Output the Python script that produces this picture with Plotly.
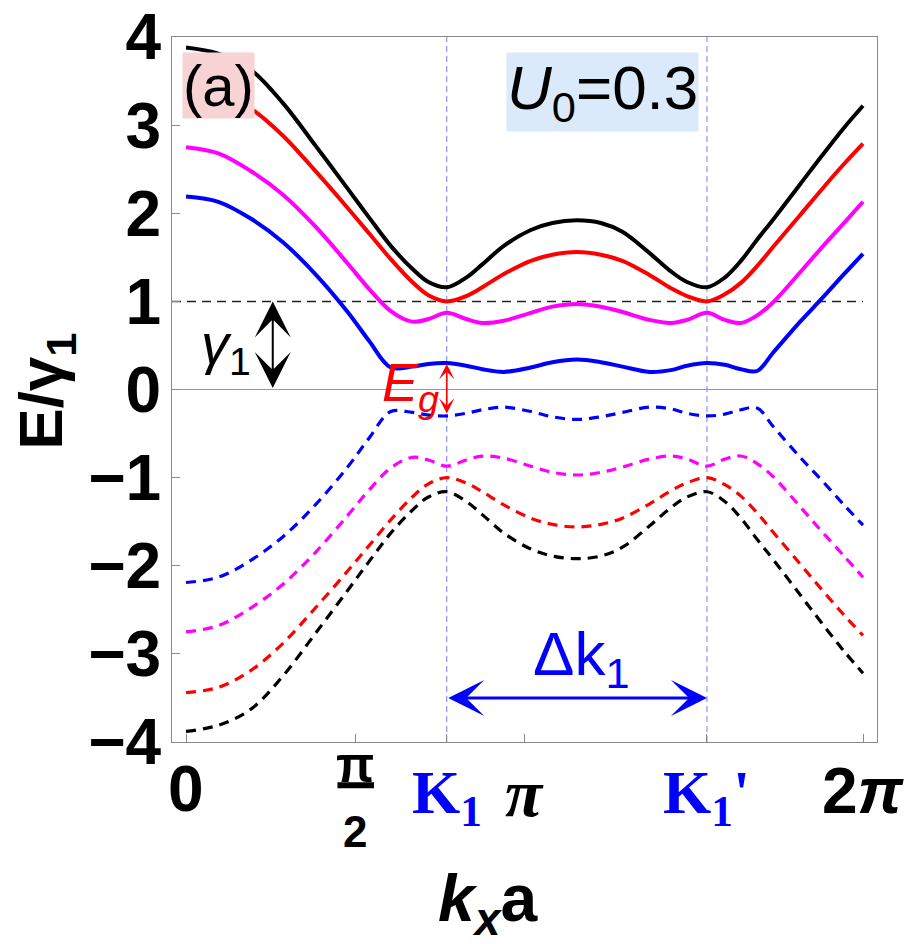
import math
import plotly.graph_objects as go

PI = math.pi
K1 = 2.42
K1P = 4.835

kx = [0, 0.3, 0.6, 0.9, 1.2, 1.5, 1.7, 1.9, 2.1, 2.25, 2.42, 2.6, 2.75, 2.95, 3.2, 3.4,
      3.63, 3.85, 4.05, 4.3, 4.5, 4.65, 4.835, 5.0, 5.15, 5.3, 5.45, 5.7, 5.9, 6.1, 6.283]

# conduction bands (solid)
E_black = [3.88, 3.81, 3.63, 3.25, 2.77, 2.28, 1.95, 1.63, 1.37, 1.22, 1.16, 1.27, 1.42, 1.63, 1.81, 1.89,
           1.92, 1.89, 1.79, 1.55, 1.34, 1.22, 1.16, 1.27, 1.46, 1.70, 1.93, 2.33, 2.65, 2.96, 3.22]
E_red = [3.44, 3.38, 3.19, 2.88, 2.48, 2.06, 1.77, 1.48, 1.22, 1.07, 1.00, 1.06, 1.16, 1.31, 1.46, 1.53,
         1.56, 1.53, 1.46, 1.30, 1.15, 1.06, 1.00, 1.08, 1.21, 1.40, 1.62, 1.98, 2.27, 2.55, 2.79]
E_magenta = [2.75, 2.68, 2.48, 2.21, 1.85, 1.43, 1.14, 0.89, 0.77, 0.80, 0.87, 0.80, 0.755, 0.78, 0.87, 0.94,
             0.97, 0.94, 0.88, 0.79, 0.755, 0.79, 0.87, 0.79, 0.755, 0.84, 0.99, 1.33, 1.61, 1.88, 2.13]
E_blue = [2.19, 2.13, 1.94, 1.67, 1.31, 0.88, 0.55, 0.25, 0.26, 0.29, 0.30, 0.27, 0.23, 0.20, 0.25, 0.31,
          0.34, 0.31, 0.26, 0.20, 0.22, 0.27, 0.30, 0.28, 0.23, 0.21, 0.42, 0.77, 1.03, 1.30, 1.54]

# valence bands (dashed)
V_black = [-3.88, -3.81, -3.63, -3.25, -2.77, -2.28, -1.95, -1.63, -1.37, -1.22, -1.16, -1.27, -1.42, -1.63, -1.81, -1.89,
           -1.92, -1.89, -1.79, -1.55, -1.34, -1.22, -1.16, -1.27, -1.46, -1.70, -1.93, -2.33, -2.65, -2.96, -3.22]
V_red = [-3.44, -3.38, -3.19, -2.88, -2.48, -2.06, -1.77, -1.48, -1.22, -1.07, -1.00, -1.06, -1.16, -1.31, -1.46, -1.53,
         -1.56, -1.53, -1.46, -1.30, -1.15, -1.06, -1.00, -1.08, -1.21, -1.40, -1.62, -1.98, -2.27, -2.55, -2.79]
V_magenta = [-2.75, -2.68, -2.48, -2.21, -1.85, -1.43, -1.14, -0.89, -0.77, -0.80, -0.87, -0.80, -0.755, -0.78, -0.87, -0.94,
             -0.97, -0.94, -0.88, -0.79, -0.755, -0.79, -0.87, -0.79, -0.755, -0.84, -0.99, -1.33, -1.61, -1.88, -2.13]
V_blue = [-2.19, -2.13, -1.94, -1.67, -1.31, -0.88, -0.55, -0.25, -0.26, -0.29, -0.30, -0.27, -0.23, -0.20, -0.25, -0.31,
          -0.34, -0.31, -0.26, -0.20, -0.22, -0.27, -0.30, -0.28, -0.23, -0.21, -0.42, -0.77, -1.03, -1.30, -1.54]

x_tickvals = [0, PI / 2, K1, PI, K1P, 2 * PI]
y_tickvals = [-4, -3, -2, -1, 0, 1, 2, 3, 4]

SANS = "Liberation Sans, Arial, sans-serif"
SERIF = "Liberation Serif, Times New Roman, serif"

fig = go.Figure()

colors = ["#0000ff", "#ff00ff", "#ff0000", "#000000"]
cond = [E_blue, E_magenta, E_red, E_black]
val = [V_blue, V_magenta, V_red, V_black]
for c, e in zip(colors, cond):
    fig.add_trace(go.Scatter(x=kx, y=e, mode="lines", line=dict(color=c, width=4, shape="spline"),
                             showlegend=False, hoverinfo="skip"))
for c, e in zip(colors, val):
    fig.add_trace(go.Scatter(x=kx, y=e, mode="lines",
                             line=dict(color=c, width=3.2, shape="spline", dash="10px,7px"),
                             showlegend=False, hoverinfo="skip"))

shapes = [
    dict(type="line", xref="x", yref="y", x0=-0.13, x1=6.413, y0=0, y1=0,
         line=dict(color="#9a9a9a", width=1.2), layer="below"),
    dict(type="line", xref="x", yref="y", x0=-0.13, x1=2 * PI, y0=1, y1=1,
         line=dict(color="#222222", width=1.5, dash="9px,6px"), layer="below"),
    dict(type="line", xref="x", yref="paper", x0=K1, x1=K1, y0=0, y1=1,
         line=dict(color="#7b7bff", width=1, dash="6px,4px"), layer="below"),
    dict(type="line", xref="x", yref="paper", x0=K1P, x1=K1P, y0=0, y1=1,
         line=dict(color="#7b7bff", width=1, dash="6px,4px"), layer="below"),
]

ann = []
# x tick labels (below the frame, in paper y)
ann.append(dict(x=0, y=-0.066, xref="x", yref="paper", text="<b>0</b>", showarrow=False,
                font=dict(family=SANS, size=64, color="black"), xanchor="center", yanchor="middle"))
ann.append(dict(x=PI / 2, y=-0.032, xref="x", yref="paper", text="<b>π</b>", showarrow=False,
                font=dict(family=SANS, size=50, color="black"), xanchor="center", yanchor="middle"))
# fraction bar of pi/2, drawn as a headless annotation arrow
ann.append(dict(x=0.2865, y=-0.0615, xref="paper", yref="paper", ax=-38, ay=0,
                showarrow=True, arrowhead=0, arrowwidth=6, arrowcolor="black", text="", standoff=0))
ann.append(dict(x=PI / 2, y=-0.127, xref="x", yref="paper", text="<b>2</b>", showarrow=False,
                font=dict(family=SANS, size=44, color="black"), xanchor="center", yanchor="middle"))
ann.append(dict(x=K1, y=-0.077, xref="x", yref="paper", text="<b>K<sub>1</sub></b>", showarrow=False,
                font=dict(family=SERIF, size=62, color="#0000ff"), xanchor="center", yanchor="middle"))
ann.append(dict(x=PI, y=-0.072, xref="x", yref="paper", text="<b><i>π</i></b>", showarrow=False,
                font=dict(family=SERIF, size=68, color="black"), xanchor="center", yanchor="middle"))
ann.append(dict(x=K1P, y=-0.077, xref="x", yref="paper", text="<b>K<sub>1</sub>'</b>", showarrow=False,
                font=dict(family=SERIF, size=62, color="#0000ff"), xanchor="center", yanchor="middle"))
ann.append(dict(x=2 * PI, y=-0.069, xref="x", yref="paper", text="<b>2<i>π</i></b>", showarrow=False,
                font=dict(family=SANS, size=64, color="black"), xanchor="center", yanchor="middle"))
# axis titles
ann.append(dict(x=-0.18, y=0.497, xref="paper", yref="paper", text="<b>E/γ<sub>1</sub></b>",
                showarrow=False, textangle=-90, font=dict(family=SANS, size=62, color="black"),
                xanchor="center", yanchor="middle"))
ann.append(dict(x=2.8, y=-0.228, xref="x", yref="paper", text="<b><i>k<sub>x</sub></i>a</b>",
                showarrow=False, font=dict(family=SANS, size=66, color="black"),
                xanchor="center", yanchor="middle"))
# labels inside
ann.append(dict(x=0.306, y=3.45, xref="x", yref="y", text="(a)", showarrow=False,
                font=dict(family=SANS, size=58, color="black"), bgcolor="#f8d3d3", borderpad=0,
                xanchor="center", yanchor="middle"))
ann.append(dict(x=3.87, y=3.38, xref="x", yref="y", text="<i>U</i><sub>0</sub>=0.3", showarrow=False,
                font=dict(family=SANS, size=62, color="black"), bgcolor="#dbeafb", borderpad=0,
                xanchor="center", yanchor="middle"))
ann.append(dict(x=0.371, y=0.48, xref="x", yref="y", text="<i>γ</i><sub>1</sub>", showarrow=False,
                font=dict(family=SANS, size=56, color="black"), xanchor="center", yanchor="middle"))
ann.append(dict(x=2.088, y=0.04, xref="x", yref="y", text="<i>E<sub>g</sub></i>", showarrow=False,
                font=dict(family=SANS, size=54, color="#ff0000"), xanchor="center", yanchor="middle"))
ann.append(dict(x=3.666, y=-3.05, xref="x", yref="y", text="Δk<sub>1</sub>", showarrow=False,
                font=dict(family=SANS, size=62, color="#0000ff"), xanchor="center", yanchor="middle"))
# arrows
ann.append(dict(x=0.805, y=1.0, ax=0.805, ay=0.0, xref="x", yref="y", axref="x", ayref="y",
                showarrow=True, arrowhead=3, arrowside="end+start", arrowwidth=2, arrowsize=3.0,
                arrowcolor="black", text=""))
ann.append(dict(x=K1, y=0.29, ax=K1, ay=-0.29, xref="x", yref="y", axref="x", ayref="y",
                showarrow=True, arrowhead=3, arrowside="end+start", arrowwidth=1.6, arrowsize=1.6,
                arrowcolor="#ff0000", text=""))
ann.append(dict(x=K1P, y=-3.5, ax=K1, ay=-3.5, xref="x", yref="y", axref="x", ayref="y",
                showarrow=True, arrowhead=3, arrowside="end+start", arrowwidth=3, arrowsize=2.0,
                arrowcolor="#0000ff", text=""))

fig.update_layout(
    width=913, height=944,
    margin=dict(l=172, r=36, t=37, b=202),
    plot_bgcolor="white", paper_bgcolor="white",
    shapes=shapes, annotations=ann, showlegend=False,
    xaxis=dict(range=[-0.13, 6.413], tickvals=x_tickvals, showticklabels=False,
               ticks="inside", ticklen=8, tickcolor="#8a8a8a", tickwidth=1.2,
               showline=True, linecolor="#8a8a8a", linewidth=1.2, mirror=True,
               showgrid=False, zeroline=False, automargin=False),
    yaxis=dict(range=[-4, 4], tickvals=y_tickvals,
               ticks="inside", ticklen=8, tickcolor="#8a8a8a", tickwidth=1.2,
               showline=True, linecolor="#8a8a8a", linewidth=1.2, mirror=True,
               showgrid=False, zeroline=False, automargin=False,
               tickfont=dict(family=SANS, size=64, color="black", weight="bold"),
               ticklabelstandoff=-3),
)

fig.write_html("out.html")
